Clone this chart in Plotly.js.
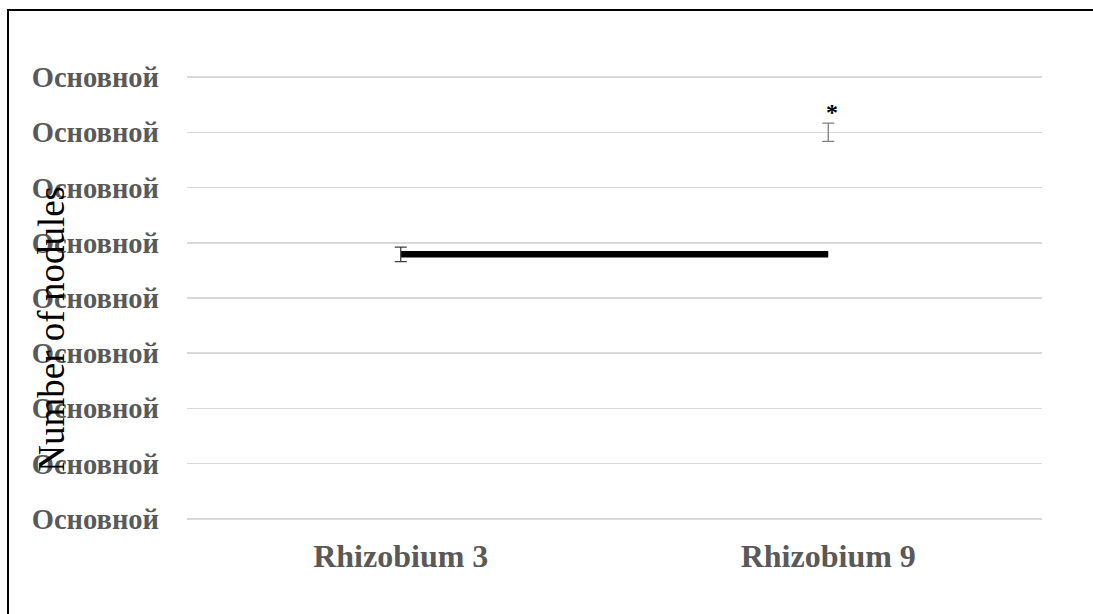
<!DOCTYPE html>
<html>
<head>
<meta charset="utf-8">
<script src="https://cdn.plot.ly/plotly-3.0.1.min.js"></script>
<style>
  html, body { margin: 0; padding: 0; background: #fff; overflow: hidden; }
  #wrap { position: absolute; left: 0; top: 0; width: 1093px; height: 614px; overflow: hidden; }
  #chart { position: absolute; left: 0; top: 0; width: 1093px; height: 614px; }
  #frame { position: absolute; left: 7px; top: 9px; width: 2000px; height: 2000px; border-left: 2px solid #000; border-top: 2px solid #000; pointer-events: none; }
</style>
</head>
<body>
<div id="wrap">
  <div id="chart"></div>
  <div id="frame"></div>
</div>
<script>
// Data
const categories = ["Rhizobium 3", "Rhizobium 9"];
const seriesA = [4.79, 4.79];          // thick black line
const seriesAErrCats = ["Rhizobium 3"];
const seriesAErrVals = [4.79];
const seriesAErr = [0.13];
const seriesBCats = ["Rhizobium 9"];
const seriesB = [7.0];                 // gray point with error bar
const seriesBErr = [0.165];
const yTickVals = [0, 1, 2, 3, 4, 5, 6, 7, 8];
const yTickText = ["Основной", "Основной", "Основной", "Основной", "Основной", "Основной", "Основной", "Основной", "Основной"];
const yTitle = "Number of nodules";
const starLabel = "*";

const traces = [
  {
    x: categories, y: seriesA, type: "scatter", mode: "lines",
    line: { color: "#000000", width: 6.5 },
    hoverinfo: "skip", showlegend: false
  },
  {
    x: seriesAErrCats, y: seriesAErrVals, type: "scatter", mode: "markers",
    marker: { color: "rgba(0,0,0,0)", size: 1 },
    error_y: { type: "data", array: seriesAErr, visible: true, color: "#404040", thickness: 1.3, width: 6 },
    hoverinfo: "skip", showlegend: false
  },
  {
    x: seriesBCats, y: seriesB, type: "scatter", mode: "markers",
    marker: { color: "rgba(0,0,0,0)", size: 1 },
    error_y: { type: "data", array: seriesBErr, visible: true, color: "#7f7f7f", thickness: 1.3, width: 6 },
    hoverinfo: "skip", showlegend: false
  }
];

const layout = {
  width: 1093, height: 614,
  margin: { l: 187, r: 51, t: 76, b: 94 },
  paper_bgcolor: "#ffffff", plot_bgcolor: "#ffffff",
  showlegend: false,
  xaxis: {
    type: "category", range: [-0.5, 1.5],
    showgrid: false, zeroline: false, showline: false, ticks: "",
    tickfont: { family: "Liberation Serif, Times New Roman, serif", size: 32, color: "#595959", weight: "bold" },
    ticklabelstandoff: 14
  },
  yaxis: {
    range: [-0.02, 8.02], tickmode: "array", tickvals: yTickVals, ticktext: yTickText,
    showgrid: true, gridcolor: "#d9d9d9", gridwidth: 1.5,
    zeroline: false, showline: false, ticks: "",
    tickfont: { family: "Liberation Serif, Times New Roman, serif", size: 28.5, color: "#595959", weight: "bold" },
    ticklabelstandoff: 27
  },
  annotations: [
    {
      text: yTitle, xref: "paper", yref: "paper", x: -0.1585, y: 0.432,
      xanchor: "center", yanchor: "middle", textangle: -90, showarrow: false,
      font: { family: "Liberation Serif, Times New Roman, serif", size: 37, color: "#000000" }
    },
    {
      text: starLabel, xref: "x", yref: "y", x: categories[1], y: 7.37,
      xanchor: "center", yanchor: "middle", xshift: 4, showarrow: false,
      font: { family: "Liberation Serif, Times New Roman, serif", size: 24, color: "#000000", weight: "bold" }
    }
  ]
};

Plotly.newPlot("chart", traces, layout, { staticPlot: true, displayModeBar: false });
</script>
</body>
</html>
